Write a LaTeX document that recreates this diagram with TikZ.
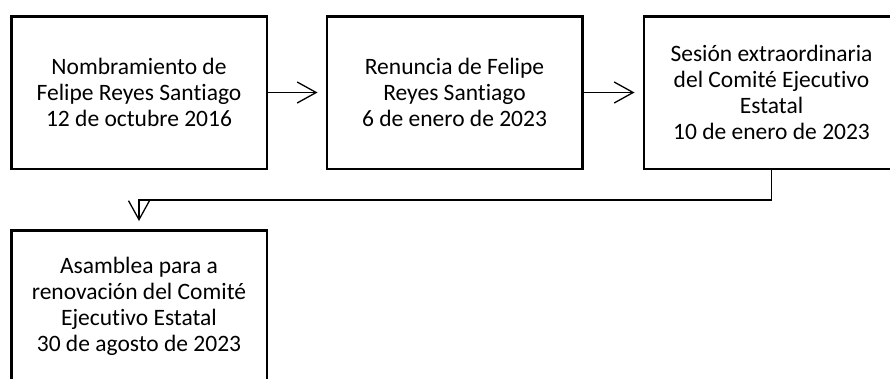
\documentclass[tikz,border=0pt]{standalone}
\usepackage{fontspec}
\setmainfont{Carlito}[Ligatures={NoCommon}]
\usetikzlibrary{arrows.meta}

\newlength{\du}
\setlength{\du}{10\unitlength}

\tikzset{
  etapa/.style={draw, line width=2.5pt, minimum width=25.55\du, minimum height=15.25\du,
    align=center, inner sep=0pt, font=\fontsize{23.5}{26}\selectfont},
  enlace/.style={line width=1.3pt, -{Straight Barb[length=19pt, width=21pt]}, shorten >=8pt}
}

\begin{document}
\begin{tikzpicture}
\pgftransformxscale{1.000000}
\pgftransformyscale{-1.000000}
\useasboundingbox (0\du,0\du) rectangle (89\du,37.8\du);
\clip (0\du,0\du) rectangle (89\du,37.8\du);
% etapas
\node[etapa] (nombramiento) at (13.9\du,9.25\du){Nombramiento de\\Felipe Reyes Santiago\\12 de octubre 2016};
\node[etapa] (renuncia) at (45.45\du,9.25\du){Renuncia de Felipe\\Reyes Santiago\\6 de enero de 2023};
\node[etapa] (sesion) at (77.15\du,9.25\du){Sesión extraordinaria\\del Comité Ejecutivo\\Estatal\\10 de enero de 2023};
\node[etapa] (asamblea) at (13.9\du,30.65\du){Asamblea para a\\renovación del Comité\\Ejecutivo Estatal\\30 de agosto de 2023};
% enlaces
\coordinate (codo) at (13.9\du,20.0\du);
\draw[enlace] (nombramiento) -- (renuncia);
\draw[enlace] (renuncia) -- (sesion);
\draw[enlace] (sesion.south) |- (codo) -- (asamblea.north);
\end{tikzpicture}
\end{document}
